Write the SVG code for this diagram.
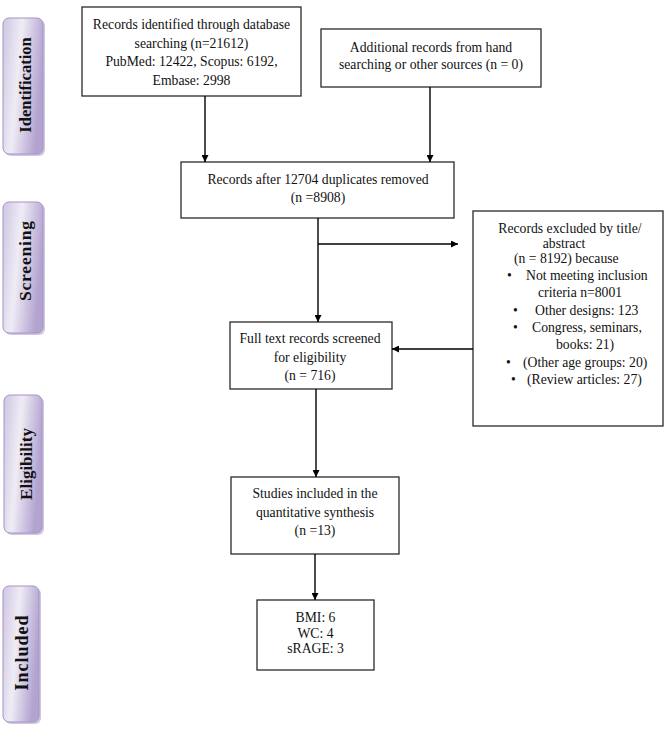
<svg xmlns="http://www.w3.org/2000/svg" width="669" height="732" viewBox="0 0 669 732">
<defs>
<linearGradient id="lab" x1="0" y1="0" x2="1" y2="0.3">
<stop offset="0" stop-color="#cfc5e2"/>
<stop offset="0.45" stop-color="#efecf5"/>
<stop offset="1" stop-color="#b3a3d0"/>
</linearGradient>
<marker id="arr" viewBox="0 0 10 10" refX="10" refY="5" markerWidth="7" markerHeight="7" markerUnits="userSpaceOnUse" orient="auto">
<path d="M0,0 L10,5 L0,10 z" fill="#000"/>
</marker>
</defs>
<style>
.box{fill:#fff;stroke:#2a2a2a;stroke-width:1.3}
.t{font-family:"Liberation Serif","Times New Roman",serif;font-size:13.7px;fill:#111}
.c{text-anchor:middle}
.lab{fill:url(#lab);stroke:#a594c4;stroke-width:1}
.shadow{fill:#a898c4;opacity:0.55}
.lt{font-family:"Liberation Serif","Times New Roman",serif;font-size:16.5px;font-weight:bold;fill:#111;text-anchor:middle}
.ln{stroke:#000;stroke-width:1.4;fill:none}
</style>
<rect width="669" height="732" fill="#fff"/>

<g id="label-identification">
<rect class="shadow" x="5" y="20" width="40" height="136" rx="6"/>
<rect class="lab" x="3" y="18" width="40" height="136" rx="6"/>
<text class="lt" transform="translate(31,85) rotate(-90)">Identification</text>
</g>
<g id="label-screening">
<rect class="shadow" x="5" y="204" width="40" height="131" rx="6"/>
<rect class="lab" x="3" y="202" width="40" height="131" rx="6"/>
<text class="lt" style="font-size:17.5px" transform="translate(31,261) rotate(-90)" textLength="80" lengthAdjust="spacing">Screening</text>
</g>
<g id="label-eligibility">
<rect class="shadow" x="6" y="397" width="38" height="138" rx="6"/>
<rect class="lab" x="4" y="395" width="38" height="138" rx="6"/>
<text class="lt" style="font-size:17px" transform="translate(32,464) rotate(-90)">Eligibility</text>
</g>
<g id="label-included">
<rect class="shadow" x="5" y="588" width="36" height="136" rx="6"/>
<rect class="lab" x="3" y="586" width="36" height="136" rx="6"/>
<text class="lt" style="font-size:18px" transform="translate(28,653) rotate(-90)" textLength="75" lengthAdjust="spacing">Included</text>
</g>

<g id="node-identified">
<rect class="box" x="82" y="7" width="219" height="89"/>
<text class="t c" x="191.5" y="29">Records identified through database</text>
<text class="t c" x="191.5" y="47.5">searching (n=21612)</text>
<text class="t c" x="191.5" y="66">PubMed: 12422, Scopus: 6192,</text>
<text class="t c" x="191.5" y="84.5">Embase: 2998</text>
</g>
<g id="node-additional">
<rect class="box" x="321" y="29" width="220" height="58"/>
<text class="t c" x="431" y="52">Additional records from hand</text>
<text class="t c" x="431" y="69">searching or other sources (n = 0)</text>
</g>
<g id="node-dedup">
<rect class="box" x="181" y="162" width="273" height="56"/>
<text class="t c" x="318" y="184">Records after 12704 duplicates removed</text>
<text class="t c" x="318" y="202">(n =8908)</text>
</g>
<g id="node-excluded">
<rect class="box" x="473" y="211" width="190" height="215"/>
<text class="t c" x="570" y="233">Records excluded by title/</text>
<text class="t c" x="564" y="248">abstract</text>
<text class="t" x="514" y="263">(n = 8192) because</text>
<text class="t" x="507" y="280">•</text><text class="t" x="526" y="280">Not meeting inclusion</text>
<text class="t" x="538" y="297">criteria n=8001</text>
<text class="t" x="513" y="315">•</text><text class="t" x="535" y="315">Other designs: 123</text>
<text class="t" x="513" y="332">•</text><text class="t" x="532" y="332">Congress, seminars,</text>
<text class="t" x="556" y="349">books: 21)</text>
<text class="t" x="506" y="367">•</text><text class="t" x="523" y="367">(Other age groups: 20)</text>
<text class="t" x="511" y="384">•</text><text class="t" x="527" y="384">(Review articles: 27)</text>
</g>
<g id="node-fulltext">
<rect class="box" x="230" y="322" width="162" height="67"/>
<text class="t c" x="310" y="343">Full text records screened</text>
<text class="t c" x="310" y="362">for eligibility</text>
<text class="t c" x="310" y="380">(n = 716)</text>
</g>
<g id="node-studies">
<rect class="box" x="231" y="477" width="168" height="77"/>
<text class="t c" x="315" y="498">Studies included in the</text>
<text class="t c" x="315" y="517">quantitative synthesis</text>
<text class="t c" x="315" y="535">(n =13)</text>
</g>
<g id="node-outcomes">
<rect class="box" x="257" y="600" width="117" height="70"/>
<text class="t c" x="315.5" y="622">BMI: 6</text>
<text class="t c" x="315.5" y="637.5">WC: 4</text>
<text class="t c" x="315.5" y="653">sRAGE: 3</text>
</g>

<g id="connectors">
<line class="ln" x1="205" y1="96" x2="205" y2="162" marker-end="url(#arr)"/>
<line class="ln" x1="430" y1="87" x2="430" y2="162" marker-end="url(#arr)"/>
<line class="ln" x1="318" y1="218" x2="318" y2="322" marker-end="url(#arr)"/>
<line class="ln" x1="318" y1="244" x2="458" y2="244" marker-end="url(#arr)"/>
<line class="ln" x1="473" y1="349" x2="392" y2="349" marker-end="url(#arr)"/>
<line class="ln" x1="316" y1="389" x2="316" y2="477" marker-end="url(#arr)"/>
<line class="ln" x1="315" y1="554" x2="315" y2="600" marker-end="url(#arr)"/>
</g>
</svg>
